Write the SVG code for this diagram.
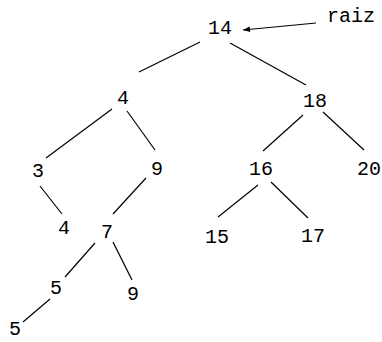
<svg xmlns="http://www.w3.org/2000/svg" width="382" height="342" viewBox="0 0 382 342">
  <defs>
    <marker id="head" viewBox="0 0 10 10" refX="10" refY="5" markerWidth="9" markerHeight="7" markerUnits="userSpaceOnUse" orient="auto">
      <path d="M0,1 L10,5 L0,9 z" fill="#000"/>
    </marker>
  </defs>
  <style>
    .edge { stroke: #000; stroke-width: 1.2; fill: none; }
    .lbl { font-family: "Liberation Mono", "DejaVu Sans Mono", monospace; font-size: 20px; fill: #000; text-anchor: middle; }
  </style>
  <rect width="382" height="342" fill="#fff"/>

  <!-- tree edges and the root pointer -->
  <g id="connectors">
    <line class="edge" x1="200" y1="42" x2="139" y2="72"/>
    <line class="edge" x1="230" y1="43" x2="306" y2="85"/>
    <line class="edge" x1="112" y1="109" x2="46" y2="158"/>
    <line class="edge" x1="127" y1="111" x2="155" y2="150"/>
    <line class="edge" x1="40" y1="186" x2="62" y2="214"/>
    <line class="edge" x1="146" y1="178" x2="113" y2="214"/>
    <line class="edge" x1="95" y1="243" x2="65" y2="277"/>
    <line class="edge" x1="113" y1="242" x2="132" y2="280"/>
    <line class="edge" x1="50" y1="299" x2="23" y2="322"/>
    <line class="edge" x1="303" y1="115" x2="263" y2="151"/>
    <line class="edge" x1="323" y1="112" x2="364" y2="150"/>
    <line class="edge" x1="258" y1="185" x2="218" y2="217"/>
    <line class="edge" x1="271" y1="182" x2="308" y2="218"/>
    <line class="edge" x1="316" y1="23" x2="243" y2="30" marker-end="url(#head)"/>
  </g>

  <g id="n14"><text class="lbl" x="220" y="34">14</text></g>
  <g id="raiz"><text class="lbl" x="351" y="22">raiz</text></g>
  <g id="n4a"><text class="lbl" x="123" y="104">4</text></g>
  <g id="n18"><text class="lbl" x="315" y="107">18</text></g>
  <g id="n3"><text class="lbl" x="38" y="177">3</text></g>
  <g id="n9a"><text class="lbl" x="157" y="175">9</text></g>
  <g id="n16"><text class="lbl" x="261" y="175">16</text></g>
  <g id="n20"><text class="lbl" x="369" y="175">20</text></g>
  <g id="n4b"><text class="lbl" x="64" y="234">4</text></g>
  <g id="n7"><text class="lbl" x="107" y="238">7</text></g>
  <g id="n15"><text class="lbl" x="217" y="243">15</text></g>
  <g id="n17"><text class="lbl" x="313" y="242">17</text></g>
  <g id="n5a"><text class="lbl" x="56" y="294">5</text></g>
  <g id="n9b"><text class="lbl" x="133" y="300">9</text></g>
  <g id="n5b"><text class="lbl" x="15" y="335">5</text></g>
</svg>
